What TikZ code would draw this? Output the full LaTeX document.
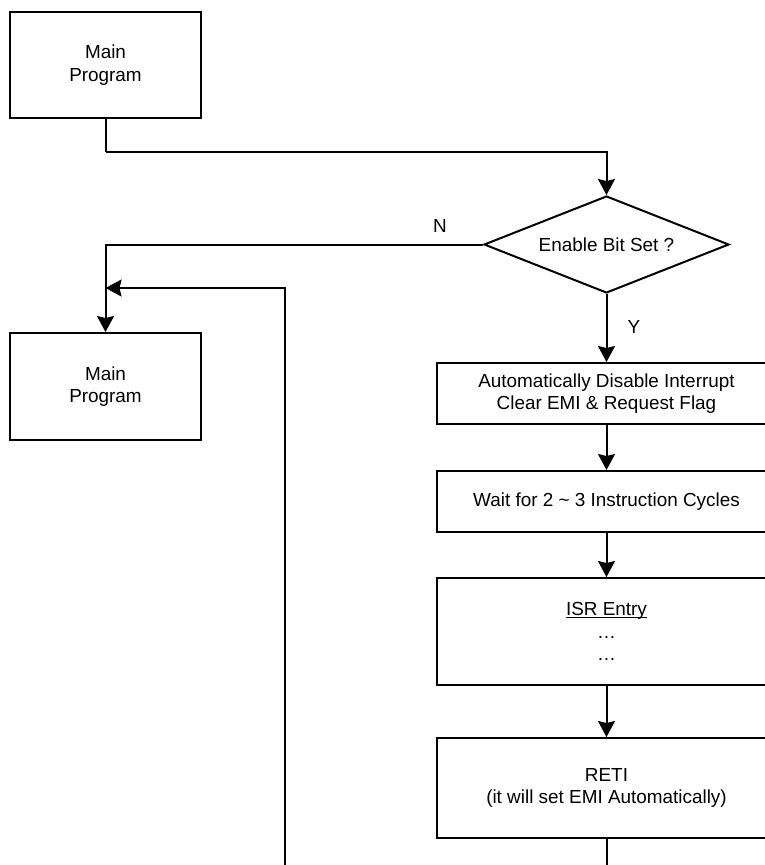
\documentclass[tikz,border=0pt]{standalone}
\usepackage{fontspec}
\setmainfont{Liberation Sans}
\usetikzlibrary{shapes.geometric,arrows.meta}
\newcommand\myul[1]{\setbox0\hbox{#1}\rlap{\rule[-2.2pt]{\wd0}{1.2pt}}\box0}
\begin{document}
\begin{tikzpicture}[x=1pt,y=-1pt,
  every node/.style={font=\fontsize{18.9}{22.5}\selectfont, text=black},
  box/.style={draw, line width=2pt, rectangle, align=center, inner sep=0pt},
  dec/.style={draw, line width=2pt, diamond, shape aspect=2.53, inner sep=0pt, minimum width=245pt, minimum height=97pt},
  conn/.style={line width=2pt},
  arr/.style={line width=2pt, -{Stealth[length=16pt,width=17pt,inset=2pt]}},
  lbl/.style={inner sep=0pt}]
\clip (0,0) rectangle (765,865);
\fill[white] (0,0) rectangle (765,865);
% nodes
\node[box, minimum width=191pt, minimum height=106pt] (m1) at (105.5,65) {Main\\Program};
\node[dec] (dec) at (606.5,244.5) {Enable Bit Set ?};
\node[box, minimum width=191pt, minimum height=107pt] (m2) at (105.5,386.5) {Main\\Program};
\node[box, minimum width=340pt, minimum height=61pt] (a) at (606.5,393.5) {Automatically Disable Interrupt\\Clear EMI \& Request Flag};
\node[box, minimum width=340pt, minimum height=61pt] (b) at (606.5,501.5) {Wait for 2 \char"007E{} 3 Instruction Cycles};
\node[box, minimum width=340pt, minimum height=107pt] (c) at (606.5,631.5) {\myul{ISR Entry}\\…\\…};
\node[box, minimum width=340pt, minimum height=100pt] (d) at (606.5,788) {RETI\\(it will set EMI Automatically)};
\node[lbl] (n) at (440,226) {N};
\node[lbl] (y) at (634,327) {Y};
% helper coordinates
\coordinate (j1) at (105.5,152);
\coordinate (j2) at (105.5,288);
\coordinate (lb) at (285,870);
\coordinate (de) at (606.5,870);
% connectors
\draw[conn] (m1.south) -- (j1);
\draw[arr] (j1) -| (dec.north);
\draw[arr] (dec.west) -| (m2.north);
\draw[arr] (dec.south) -- (a.north);
\draw[arr] (a.south) -- (b.north);
\draw[arr] (b.south) -- (c.north);
\draw[arr] (c.south) -- (d.north);
\draw[conn] (d.south) -- (de);
\draw[arr] (lb) |- (j2);
\end{tikzpicture}
\end{document}
